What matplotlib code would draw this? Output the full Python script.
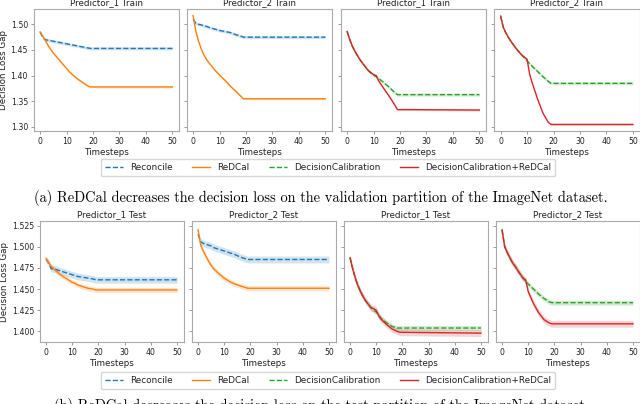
import numpy as np
import matplotlib.pyplot as plt

timesteps = [0, 1, 2, 3, 4, 5, 6, 8, 9, 10, 11, 12, 14, 16, 18, 19, 50]

# ---- validation (train) partition ----
p1_train_reconcile = [1.485, 1.474, 1.470, 1.469, 1.468, 1.467, 1.466, 1.464, 1.463, 1.462, 1.461, 1.460, 1.458, 1.456, 1.454, 1.453, 1.453]
p1_train_redcal = [1.485, 1.477, 1.468, 1.459, 1.451, 1.444, 1.438, 1.426, 1.420, 1.414, 1.408, 1.403, 1.394, 1.387, 1.380, 1.378, 1.378]
p2_train_reconcile = [1.510, 1.502, 1.500, 1.499, 1.497, 1.496, 1.494, 1.491, 1.4895, 1.488, 1.487, 1.486, 1.484, 1.480, 1.477, 1.475, 1.475]
p2_train_redcal = [1.517, 1.487, 1.468, 1.453, 1.441, 1.432, 1.425, 1.412, 1.4065, 1.401, 1.396, 1.391, 1.380, 1.370, 1.360, 1.355, 1.355]
p1_train_dc = [1.486, 1.470, 1.457, 1.447, 1.438, 1.430, 1.423, 1.410, 1.405, 1.401, 1.398, 1.394, 1.386, 1.377, 1.367, 1.363, 1.363]
p1_train_dc_redcal = [1.486, 1.470, 1.457, 1.447, 1.438, 1.430, 1.423, 1.410, 1.406, 1.402, 1.400, 1.389, 1.374, 1.359, 1.343, 1.334, 1.333]
p2_train_dc = [1.516, 1.494, 1.483, 1.474, 1.466, 1.459, 1.452, 1.440, 1.4345, 1.429, 1.423, 1.418, 1.408, 1.398, 1.389, 1.385, 1.385]
p2_train_dc_redcal = [1.516, 1.494, 1.483, 1.474, 1.466, 1.459, 1.452, 1.440, 1.436, 1.432, 1.402, 1.385, 1.354, 1.327, 1.309, 1.305, 1.305]

# ---- test partition ----
p1_test_reconcile = [1.485, 1.481, 1.474, 1.474, 1.473, 1.472, 1.471, 1.469, 1.468, 1.467, 1.466, 1.465, 1.464, 1.463, 1.462, 1.461, 1.461]
p1_test_redcal = [1.486, 1.481, 1.477, 1.474, 1.471, 1.468, 1.466, 1.462, 1.460, 1.458, 1.457, 1.455, 1.453, 1.451, 1.450, 1.449, 1.449]
p2_test_reconcile = [1.515, 1.506, 1.504, 1.503, 1.502, 1.501, 1.499, 1.497, 1.496, 1.495, 1.494, 1.493, 1.491, 1.488, 1.486, 1.485, 1.485]
p2_test_redcal = [1.520, 1.502, 1.495, 1.489, 1.483, 1.478, 1.474, 1.468, 1.4655, 1.463, 1.461, 1.459, 1.456, 1.454, 1.452, 1.451, 1.451]
p1_test_dc = [1.487, 1.474, 1.463, 1.454, 1.447, 1.441, 1.436, 1.428, 1.425, 1.423, 1.419, 1.415, 1.410, 1.406, 1.404, 1.404, 1.404]
p1_test_dc_redcal = [1.487, 1.474, 1.463, 1.454, 1.447, 1.441, 1.436, 1.428, 1.427, 1.425, 1.418, 1.414, 1.408, 1.403, 1.400, 1.399, 1.398]
p2_test_dc = [1.520, 1.500, 1.493, 1.487, 1.481, 1.477, 1.472, 1.463, 1.459, 1.456, 1.453, 1.450, 1.444, 1.439, 1.435, 1.434, 1.434]
p2_test_dc_redcal = [1.520, 1.500, 1.493, 1.487, 1.481, 1.477, 1.472, 1.463, 1.461, 1.447, 1.440, 1.433, 1.422, 1.414, 1.410, 1.409, 1.409]

# half-width of shaded bands
train_band = {'Reconcile': 0.003, 'ReDCal': 0.002, 'DecisionCalibration': 0.003, 'DecisionCalibration+ReDCal': 0.002}
test_band = {'Reconcile': 0.004, 'ReDCal': 0.003, 'DecisionCalibration': 0.003, 'DecisionCalibration+ReDCal': 0.004}

styles = {
    'Reconcile': ('tab:blue', '--'),
    'ReDCal': ('tab:orange', '-'),
    'DecisionCalibration': ('tab:green', '--'),
    'DecisionCalibration+ReDCal': ('tab:red', '-'),
}

top_panels = [
    ('Predictor_1 Train', {'Reconcile': p1_train_reconcile, 'ReDCal': p1_train_redcal}),
    ('Predictor_2 Train', {'Reconcile': p2_train_reconcile, 'ReDCal': p2_train_redcal}),
    ('Predictor_1 Train', {'DecisionCalibration': p1_train_dc, 'DecisionCalibration+ReDCal': p1_train_dc_redcal}),
    ('Predictor_2 Train', {'DecisionCalibration': p2_train_dc, 'DecisionCalibration+ReDCal': p2_train_dc_redcal}),
]
bottom_panels = [
    ('Predictor_1 Test', {'Reconcile': p1_test_reconcile, 'ReDCal': p1_test_redcal}),
    ('Predictor_2 Test', {'Reconcile': p2_test_reconcile, 'ReDCal': p2_test_redcal}),
    ('Predictor_1 Test', {'DecisionCalibration': p1_test_dc, 'DecisionCalibration+ReDCal': p1_test_dc_redcal}),
    ('Predictor_2 Test', {'DecisionCalibration': p2_test_dc, 'DecisionCalibration+ReDCal': p2_test_dc_redcal}),
]

W, H = 640, 404
fig = plt.figure(figsize=(6.4, 4.04), dpi=100)


def make_row(panels, lefts, width, top, bottom, band, yticks, yfmt):
    axes = []
    t = np.array(timesteps)
    for i, (title, series) in enumerate(panels):
        ax = fig.add_axes([lefts[i] / W, 1 - bottom / H, width / W, (bottom - top) / H],
                          sharey=axes[0] if axes else None)
        for name, vals in series.items():
            c, ls = styles[name]
            v = np.array(vals)
            ax.plot(t, v, color=c, ls=ls, lw=1.0)
            ax.fill_between(t, v - band[name], v + band[name], color=c, alpha=0.2, lw=0)
        ax.set_title(title, fontsize=6.3, pad=2.5, color='#222222')
        ax.set_xlabel('Timesteps', fontsize=6.3, labelpad=1.5, color='#222222')
        ax.set_xticks([0, 10, 20, 30, 40, 50])
        ax.tick_params(labelsize=5.6, length=2.5, width=0.6, pad=1.5, color='#888888', labelcolor='#222222')
        for s in ax.spines.values():
            s.set_color('#aaaaaa')
            s.set_linewidth(0.8)
        if i == 0:
            ax.set_ylabel('Decision Loss Gap', fontsize=6.3, labelpad=2, color='#222222')
            ax.set_yticks(yticks)
            ax.set_yticklabels([yfmt % y for y in yticks])
        else:
            ax.tick_params(labelleft=False)
        axes.append(ax)
    return axes


make_row(top_panels, [33.5, 186.5, 340.5, 494], 145.5, 9, 131, train_band,
         [1.30, 1.35, 1.40, 1.45, 1.50], '%.2f')
make_row(bottom_panels, [39.5, 191.5, 343.5, 495.5], 144, 221, 342, test_band,
         [1.400, 1.425, 1.450, 1.475, 1.500, 1.525], '%.3f')

handles = [plt.Line2D([], [], color=styles[k][0], ls=styles[k][1], lw=1.0) for k in styles]
for yc in (167.5, 380.5):
    fig.legend(handles, list(styles.keys()), loc='center', bbox_to_anchor=(328 / W, 1 - yc / H),
               ncol=4, fontsize=6.4, frameon=True, handlelength=2.0, columnspacing=2.2,
               borderpad=0.5, edgecolor='#cccccc', labelcolor='#222222')

fig.text(321 / W, 1 - 198 / H,
         '(a) ReDCal decreases the decision loss on the validation partition of the ImageNet dataset.',
         ha='center', va='center', fontsize=10.4, family='cmr10')
fig.text(321 / W, 1 - 406 / H,
         '(b) ReDCal decreases the decision loss on the test partition of the ImageNet dataset.',
         ha='center', va='center', fontsize=10.4, family='cmr10')

fig.savefig('out.png', dpi=100)
